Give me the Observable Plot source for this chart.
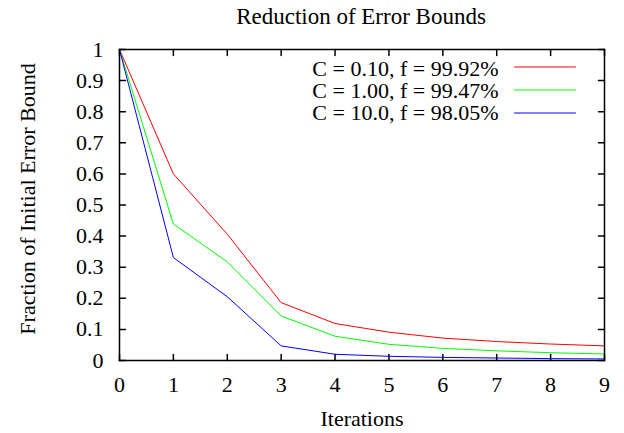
<!DOCTYPE html>
<html>
<head>
<meta charset="utf-8">
<script src="https://cdn.jsdelivr.net/npm/d3@7"></script>
<script src="https://cdn.jsdelivr.net/npm/@observablehq/plot@0.6"></script>
<style>
  html, body { margin: 0; padding: 0; background: #fff; }
  svg { font-family: "Liberation Serif", "Times New Roman", serif; }
</style>
</head>
<body>
<div id="chart"></div>
<script>
const iterations = [0, 1, 2, 3, 4, 5, 6, 7, 8, 9];
const seriesNames = ["C = 0.10, f = 99.92%", "C = 1.00, f = 99.47%", "C = 10.0, f = 98.05%"];
const seriesColors = ["#ff0000", "#00ff00", "#0000ff"];
const redValues   = [1, 0.600, 0.406, 0.186, 0.119, 0.091, 0.072, 0.061, 0.053, 0.047];
const greenValues = [1, 0.439, 0.317, 0.143, 0.078, 0.052, 0.039, 0.031, 0.025, 0.021];
const blueValues  = [1, 0.331, 0.205, 0.047, 0.020, 0.0135, 0.010, 0.008, 0.006, 0.005];
const xTicks = [0, 1, 2, 3, 4, 5, 6, 7, 8, 9];
const yTicks = [0, 0.1, 0.2, 0.3, 0.4, 0.5, 0.6, 0.7, 0.8, 0.9, 1];
const yTickLabels = ["0", "0.1", "0.2", "0.3", "0.4", "0.5", "0.6", "0.7", "0.8", "0.9", "1"];

const allValues = [redValues, greenValues, blueValues];
const data = [];
allValues.forEach((vals, s) => vals.forEach((v, i) => data.push({series: seriesNames[s], x: iterations[i], y: v})));

const lineShape = {draw(context, l) { context.moveTo(0, 0); context.lineTo(0, -l); }};
const fs = 22;
const ff = '"Liberation Serif", "Times New Roman", serif';

const legendMarks = [];
seriesNames.forEach((name, i) => {
  legendMarks.push(Plot.text([name], {
    frameAnchor: "top-right", text: d => d, textAnchor: "end", lineAnchor: "middle",
    dx: -106, dy: 19 + 22 * i, fontSize: fs, fontFamily: ff, fill: "black"
  }));
  legendMarks.push(Plot.vector([name], {
    frameAnchor: "top-right", dx: -90, dy: 17.5 + 23 * i, length: 61, rotate: 90,
    anchor: "start", shape: lineShape, stroke: seriesColors[i], strokeWidth: 1
  }));
});

const chart = Plot.plot({
  width: 624,
  height: 433,
  marginLeft: 119,
  marginRight: 20,
  marginTop: 49,
  marginBottom: 73,
  style: {fontFamily: ff, background: "white", color: "black"},
  x: {domain: [0, 9]},
  y: {domain: [0, 1]},
  color: {domain: seriesNames, range: seriesColors},
  marks: [
    Plot.axisX(xTicks, {tickSize: 0, tickPadding: 16, fontSize: fs, fontFamily: ff, label: null}),
    Plot.axisY(yTicks, {tickSize: 0, tickPadding: 16, fontSize: fs, fontFamily: ff, label: null,
      tickFormat: d => yTickLabels[yTicks.indexOf(d)]}),
    Plot.vector(xTicks, {x: d => d, frameAnchor: "bottom", length: 6, rotate: 0, anchor: "start", shape: lineShape, stroke: "black"}),
    Plot.vector(xTicks, {x: d => d, frameAnchor: "top", length: 6, rotate: 180, anchor: "start", shape: lineShape, stroke: "black"}),
    Plot.vector(yTicks, {y: d => d, frameAnchor: "left", length: 6, rotate: 90, anchor: "start", shape: lineShape, stroke: "black"}),
    Plot.vector(yTicks, {y: d => d, frameAnchor: "right", length: 6, rotate: 270, anchor: "start", shape: lineShape, stroke: "black"}),
    Plot.line(data, {x: "x", y: "y", z: "series", stroke: "series", strokeWidth: 1}),
    ...legendMarks,
    Plot.frame({stroke: "black", strokeWidth: 1.5}),
    Plot.text(["Reduction of Error Bounds"], {frameAnchor: "top", text: d => d, lineAnchor: "middle", textAnchor: "middle", dx: -1, dy: -33, fontSize: 23, fontFamily: ff, fill: "black"}),
    Plot.text(["Iterations"], {frameAnchor: "bottom", text: d => d, lineAnchor: "middle", textAnchor: "middle", dy: 58, fontSize: fs, fontFamily: ff, fill: "black"}),
    Plot.text(["Fraction of Initial Error Bound"], {frameAnchor: "left", text: d => d, rotate: -90, lineAnchor: "middle", textAnchor: "middle", dx: -92, dy: -6, fontSize: fs, fontFamily: ff, fill: "black"})
  ]
});
document.getElementById("chart").appendChild(chart);
</script>
</body>
</html>
